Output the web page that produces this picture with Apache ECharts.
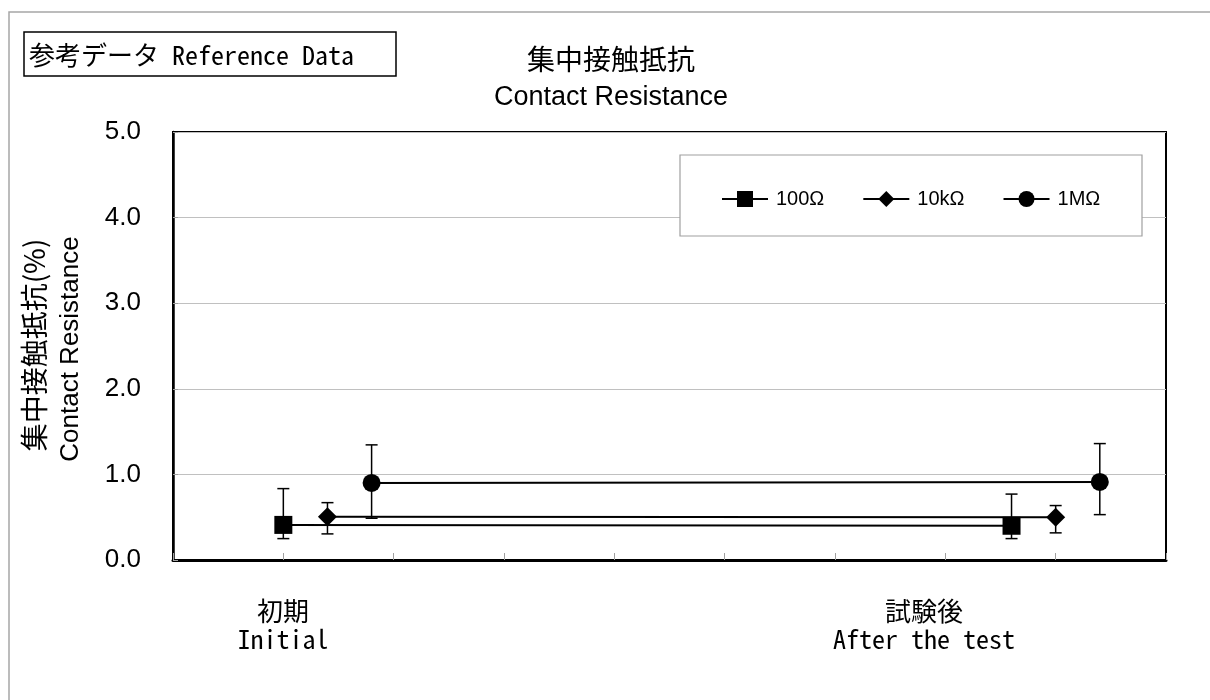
<!DOCTYPE html>
<html>
<head>
<meta charset="utf-8">
<script src="https://cdn.jsdelivr.net/npm/echarts@6/dist/echarts.min.js"></script>
<style>
html,body{margin:0;padding:0;background:#fff;}
#chart{width:1210px;height:700px;}
</style>
</head>
<body>
<div id="chart"></div>
<script>
// ---- data ----
const seriesNames = ['100Ω', '10kΩ', '1MΩ'];
const seriesSymbols = ['rect', 'diamond', 'circle'];
const stageNamesJa = ['初期', '試験後'];
const stageNamesEn = ['Initial', 'After the test'];
const stageX = [1.4, 8.0];            // x centre of each stage group
const seriesOffset = [-0.4, 0, 0.4];  // x offset of each series within a group
const meanInitial = [0.41, 0.505, 0.90];
const meanAfter   = [0.40, 0.50, 0.912];
const hiInitial   = [0.834, 0.67, 1.345];
const loInitial   = [0.25, 0.305, 0.488];
const hiAfter     = [0.77, 0.636, 1.36];
const loAfter     = [0.25, 0.317, 0.53];
const yTicks = [0, 1, 2, 3, 4, 5];

const chart = echarts.init(document.getElementById('chart'));
const CJK = "'Noto Sans CJK JP', 'Noto Sans', sans-serif";
const MONO = "'Noto Sans Mono CJK JP', 'Noto Sans CJK JP', monospace";
const SANS = "'Liberation Sans', Arial, sans-serif";

const means = [meanInitial, meanAfter];
const his = [hiInitial, hiAfter];
const los = [loInitial, loAfter];

const series = [];
seriesNames.forEach((name, i) => {
  series.push({
    name: name,
    type: 'line',
    symbol: seriesSymbols[i],
    symbolSize: seriesSymbols[i] === 'diamond' ? 19 : 18,
    z: 3,
    itemStyle: { color: '#000' },
    lineStyle: { color: '#000', width: 2 },
    data: stageX.map((sx, s) => [sx + seriesOffset[i], means[s][i]]),
    animation: false
  });
});
const errData = [];
seriesNames.forEach((name, i) => {
  stageX.forEach((sx, s) => {
    errData.push([sx + seriesOffset[i], means[s][i], los[s][i], his[s][i]]);
  });
});
series.push({
  type: 'custom',
  z: 2,
  silent: true,
  animation: false,
  data: errData,
  encode: { x: 0, y: [1, 2, 3] },
  renderItem: function (params, api) {
    const x = api.value(0);
    const lo = api.coord([x, api.value(2)]);
    const hi = api.coord([x, api.value(3)]);
    const w = 6;
    const st = { stroke: '#000', lineWidth: 1.5 };
    return {
      type: 'group',
      children: [
        { type: 'line', shape: { x1: hi[0], y1: hi[1], x2: lo[0], y2: lo[1] }, style: st },
        { type: 'line', shape: { x1: hi[0] - w, y1: hi[1], x2: hi[0] + w, y2: hi[1] }, style: st },
        { type: 'line', shape: { x1: lo[0] - w, y1: lo[1], x2: lo[0] + w, y2: lo[1] }, style: st }
      ]
    };
  }
});

const graphics = [
  { type: 'rect', shape: { x: 9, y: 12, width: 1300, height: 800 }, style: { fill: 'none', stroke: '#a6a6a6', lineWidth: 1.5 }, z: 0 },
  { type: 'rect', shape: { x: 24, y: 32, width: 372, height: 44 }, style: { fill: '#fff', stroke: '#000', lineWidth: 1.5 }, z: 5 },
  { type: 'text', x: 29, y: 55, style: { text: '参考データ Reference Data', font: '26px ' + MONO, fill: '#000', textAlign: 'left', textVerticalAlign: 'middle' }, z: 6 },
  { type: 'text', x: 611, y: 59, style: { text: '集中接触抵抗', font: '28px ' + CJK, fill: '#000', textAlign: 'center', textVerticalAlign: 'middle' }, z: 6 },
  { type: 'text', x: 611, y: 98, style: { text: 'Contact Resistance', font: '27px ' + SANS, fill: '#000', textAlign: 'center', textVerticalAlign: 'middle' }, z: 6 },
  { type: 'text', x: 34, y: 345, rotation: Math.PI / 2, style: { text: '集中接触抵抗(%)', font: '28px ' + CJK, fill: '#000', textAlign: 'center', textVerticalAlign: 'middle' }, z: 6 },
  { type: 'text', x: 71, y: 349, rotation: Math.PI / 2, style: { text: 'Contact Resistance', font: '26px ' + SANS, fill: '#000', textAlign: 'center', textVerticalAlign: 'middle' }, z: 6 },
  { type: 'rect', shape: { x: 680, y: 155, width: 462, height: 81 }, style: { fill: '#fff', stroke: '#a0a0a0', lineWidth: 1.2 }, z: 3 }
];
const labelX = [283, 924];
stageNamesJa.forEach((t, s) => {
  graphics.push({ type: 'text', x: labelX[s], y: 611, style: { text: t, font: '26px ' + MONO, fill: '#000', textAlign: 'center', textVerticalAlign: 'middle' }, z: 6 });
  graphics.push({ type: 'text', x: labelX[s], y: 639, style: { text: stageNamesEn[s], font: '26px ' + MONO, fill: '#000', textAlign: 'center', textVerticalAlign: 'middle' }, z: 6 });
});

chart.setOption({
  backgroundColor: '#fff',
  animation: false,
  grid: { left: 173, top: 132, width: 993, height: 428, show: true, borderColor: '#000', borderWidth: 2, backgroundColor: 'transparent' },
  xAxis: {
    type: 'value', min: 0, max: 9, interval: 1,
    axisLine: { show: true, onZero: false, lineStyle: { color: '#000', width: 3 } },
    axisTick: { show: true, inside: true, length: 7, lineStyle: { color: '#a0a0a0', width: 1 } },
    axisLabel: { show: false },
    splitLine: { show: false }
  },
  yAxis: {
    type: 'value', min: yTicks[0], max: yTicks[yTicks.length - 1], interval: 1,
    axisLine: { show: true, lineStyle: { color: '#000', width: 2.5 } },
    axisTick: { show: true, inside: true, length: 5, lineStyle: { color: '#a0a0a0', width: 1 } },
    axisLabel: { show: true, margin: 32, color: '#000', fontSize: 26, fontFamily: SANS, formatter: v => v.toFixed(1) },
    splitLine: { show: true, lineStyle: { color: '#c0c0c0', width: 1.2 } }
  },
  legend: {
    show: true,
    left: 716, top: 184,
    z: 4,
    itemWidth: 46, itemHeight: 20,
    itemGap: 38,
    textStyle: { fontSize: 20, fontFamily: SANS, color: '#000', padding: [0, 0, 0, 3] },
    data: seriesNames
  },
  graphic: graphics,
  series: series
});
</script>
</body>
</html>
